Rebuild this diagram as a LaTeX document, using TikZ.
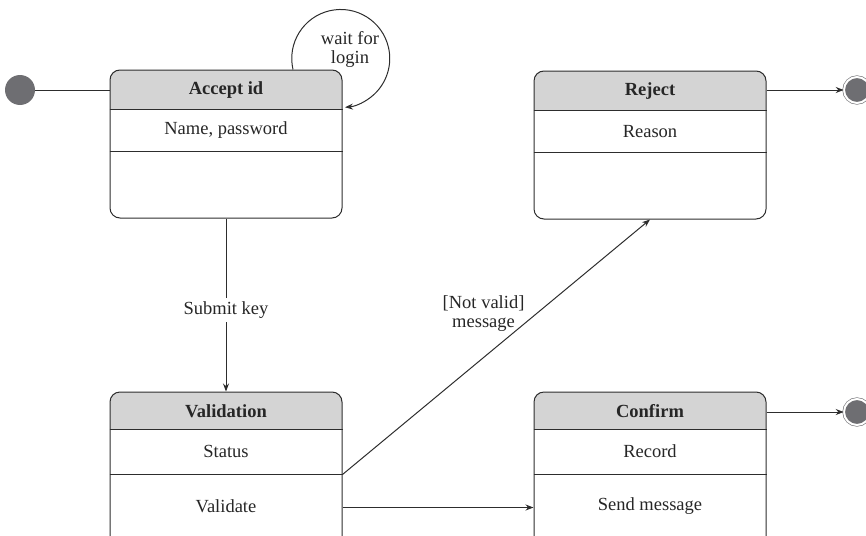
\documentclass[tikz,border=0pt]{standalone}
\usepackage{fontspec}
\setmainfont{Liberation Serif}
\usetikzlibrary{arrows.meta,backgrounds}
\definecolor{hdrgray}{RGB}{212,212,212}
\definecolor{dotgray}{RGB}{110,110,114}
\definecolor{linegray}{RGB}{45,45,45}

\begin{document}
\begin{tikzpicture}[x=1pt, y=1pt, >={Stealth[length=8pt,width=6pt]},
	every node/.style={font=\fontsize{18.5}{19}\selectfont, text=black!85},
	statebox/.style={draw=linegray, line width=1pt, rounded corners=10pt, minimum width=232pt, inner sep=0pt},
	header/.style={fill=hdrgray},
	title/.style={font=\fontsize{18.5}{19}\selectfont\bfseries},
	conn/.style={draw=linegray, line width=1pt},
	startdot/.style={circle, fill=dotgray, minimum size=30pt, inner sep=0pt},
	enddot/.style={circle, fill=dotgray, draw=dotgray, line width=0.6pt, double=white, double distance=2pt, minimum size=26pt, inner sep=0pt}]
	\useasboundingbox (0,0) rectangle (866,-535);
	\clip (0,0) rectangle (866,-535);
	% states
	\node [statebox, minimum height=148pt] (accept) at (226,-144) {};
	\node [statebox, minimum height=148pt] (reject) at (650,-145) {};
	\node [statebox, minimum height=170pt] (valid) at (226,-477) {};
	\node [statebox, minimum height=170pt] (confirm) at (650,-477) {};
	\begin{scope}[on background layer]
		\foreach \b/\h in {accept/40, reject/40, valid/38, confirm/38} {
			\begin{scope}
				\clip [rounded corners=10pt] (\b.south west) rectangle (\b.north east);
				\fill [header] (\b.north west) rectangle ([yshift=-\h pt]\b.north east);
			\end{scope}}
	\end{scope}
	\foreach \b/\h/\r in {accept/40/82, reject/40/82, valid/38/83, confirm/38/83}
		\draw [conn] ([yshift=-\h pt]\b.north west) -- ([yshift=-\h pt]\b.north east) ([yshift=-\r pt]\b.north west) -- ([yshift=-\r pt]\b.north east);
	% texts
	\node [title] (accept-t) at ([yshift=-21pt]accept.north) {Accept id};
	\node (accept-a) at ([yshift=-61pt]accept.north) {Name, password};
	\node [title] (reject-t) at ([yshift=-21pt]reject.north) {Reject};
	\node (reject-a) at ([yshift=-61pt]reject.north) {Reason};
	\node [title] (valid-t) at ([yshift=-20pt]valid.north) {Validation};
	\node (valid-a) at ([yshift=-60pt]valid.north) {Status};
	\node (valid-b) at ([yshift=-115pt]valid.north) {Validate};
	\node [title] (confirm-t) at ([yshift=-20pt]confirm.north) {Confirm};
	\node (confirm-a) at ([yshift=-60pt]confirm.north) {Record};
	\node (confirm-b) at ([yshift=-115pt]confirm.north) {Send message};
	% start and end
	\node [startdot] (start) at (20,-90) {};
	\node [enddot] (end1) at (857,-90) {};
	\node [enddot] (end2) at (857,-412) {};
	% transitions
	\draw [conn] (start) -- (start -| accept.west);
	\draw [conn,->] ([xshift=67pt]accept.north) arc [start angle=193, end angle=-85, radius=49pt];
	\node [align=center] (wait) at (350,-49) {wait for\\login};
	\draw [conn,->] (accept.south) -- node [fill=white, pos=0.53] (submit) {Submit key} (valid.north);
	\draw [conn,->] ([yshift=-83pt]valid.north east) -- node [pos=0.63, left=8pt, align=center] (notvalid) {[Not valid]\\message} (reject.south);
	\draw [conn,->] ([yshift=-116pt]valid.north east) -- ([yshift=-116pt]confirm.north west);
	\draw [conn,->] (end1 -| reject.east) -- (end1);
	\draw [conn,->] (end2 -| confirm.east) -- (end2);
\end{tikzpicture}
\end{document}
